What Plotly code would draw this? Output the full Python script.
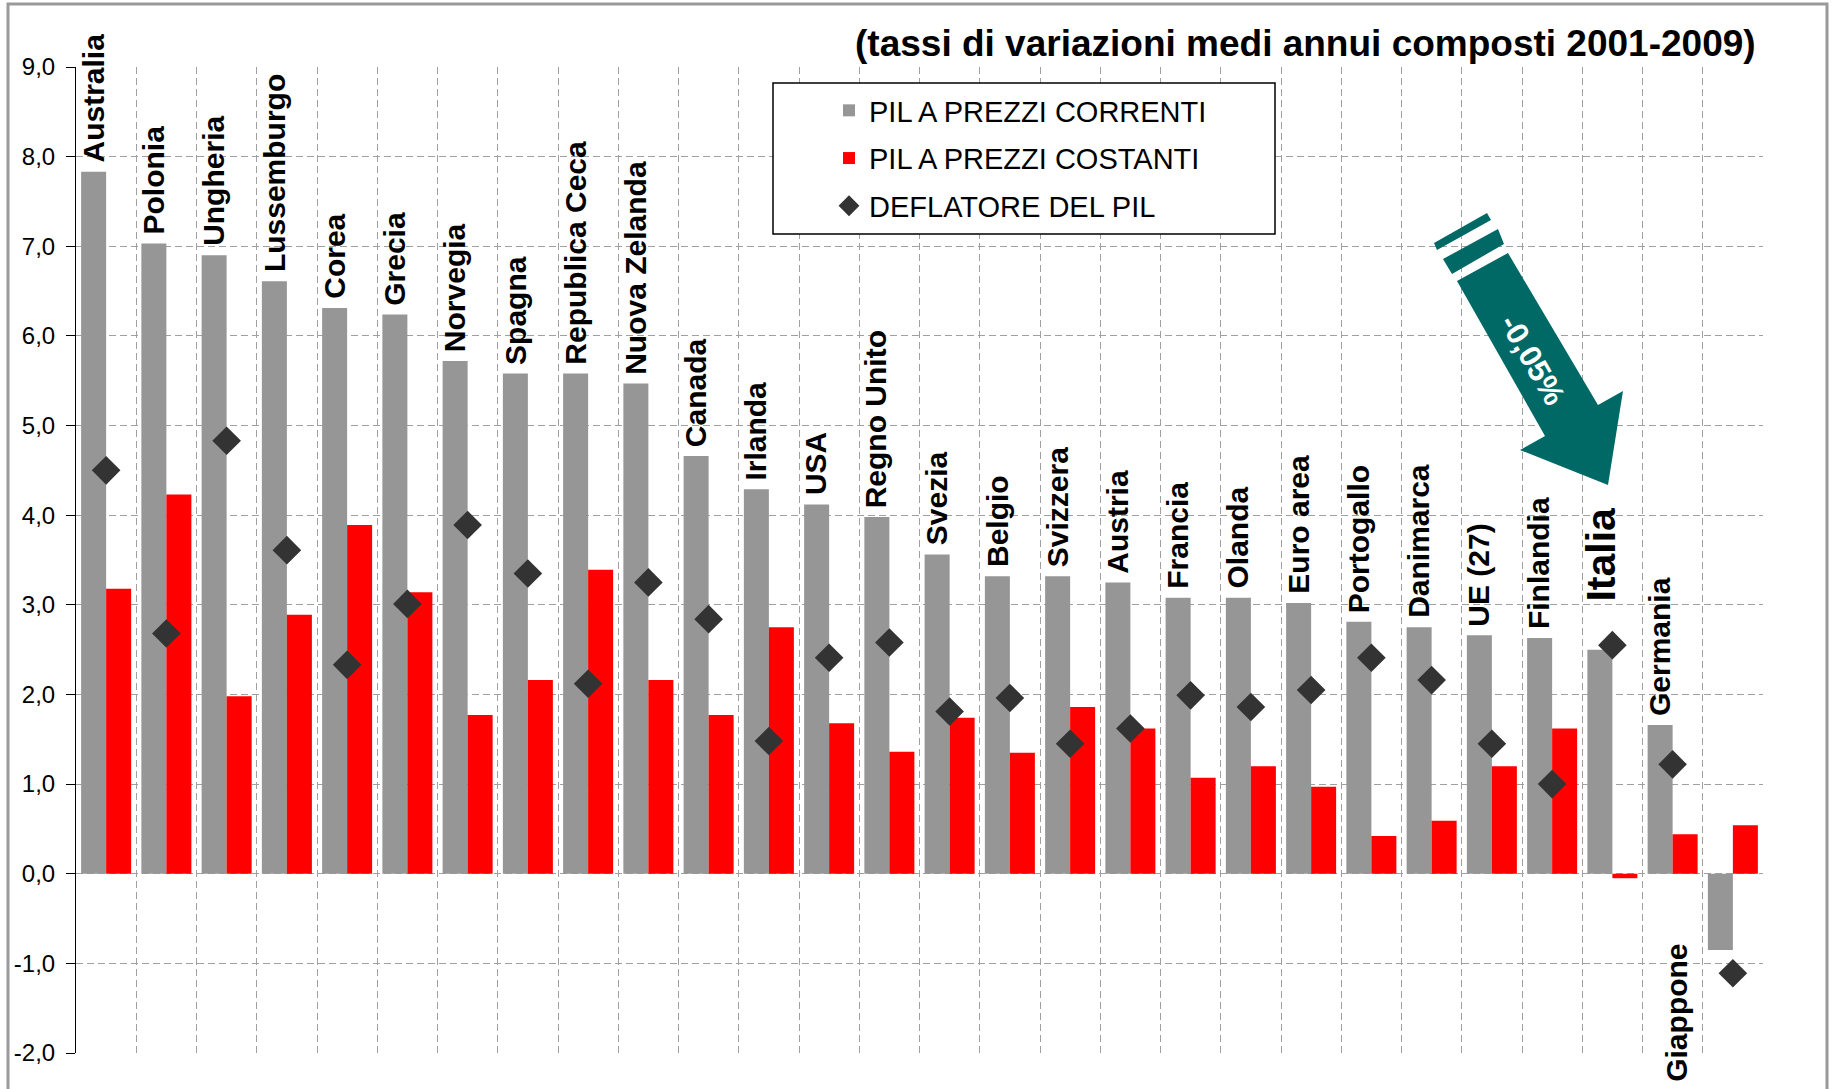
import plotly.graph_objects as go

# ---------------- data ----------------
countries = ["Australia", "Polonia", "Ungheria", "Lussemburgo", "Corea", "Grecia",
             "Norvegia", "Spagna", "Republica Ceca", "Nuova Zelanda", "Canada",
             "Irlanda", "USA", "Regno Unito", "Svezia", "Belgio", "Svizzera",
             "Austria", "Francia", "Olanda", "Euro area", "Portogallo", "Danimarca",
             "UE (27)", "Finlandia", "Italia", "Germania", "Giappone"]
pil_correnti = [7.83, 7.03, 6.90, 6.61, 6.31, 6.24, 5.72, 5.58, 5.58, 5.47, 4.66,
                4.29, 4.12, 3.98, 3.56, 3.32, 3.32, 3.25, 3.08, 3.08, 3.02, 2.81,
                2.75, 2.66, 2.63, 2.50, 1.66, -0.85]
pil_costanti = [3.18, 4.23, 1.98, 2.89, 3.89, 3.14, 1.77, 2.16, 3.39, 2.16, 1.77,
                2.75, 1.68, 1.36, 1.74, 1.35, 1.86, 1.62, 1.07, 1.20, 0.97, 0.42,
                0.59, 1.20, 1.62, -0.05, 0.44, 0.54]
deflatore = [4.50, 2.68, 4.83, 3.61, 2.33, 3.01, 3.89, 3.35, 2.12, 3.25, 2.84,
             1.48, 2.41, 2.58, 1.81, 1.96, 1.45, 1.62, 1.99, 1.86, 2.05, 2.41,
             2.16, 1.45, 1.00, 2.55, 1.22, -1.11]
series_names = ["PIL A PREZZI CORRENTI", "PIL A PREZZI COSTANTI", "DEFLATORE DEL PIL"]
tick_vals = [-2, -1, 0, 1, 2, 3, 4, 5, 6, 7, 8, 9]
tick_text = ["-2,0", "-1,0", "0,0", "1,0", "2,0", "3,0", "4,0", "5,0", "6,0", "7,0", "8,0", "9,0"]
title_text = "(tassi di variazioni medi annui composti 2001-2009)"
arrow_text = "-0,05%"
highlight = "Italia"
below_label = "Giappone"

# ---------------- layout geometry (pixels) ----------------
W_PAGE, H_PAGE = 1841, 1089
L, R, T, B = 76, 1763, 67, 1053
PW, PH = R - L, B - T


def px(x):
    return (x - L) / PW


def py(y):
    return (B - y) / PH


FONT = "Liberation Sans, Arial, sans-serif"
GRAY = "#969696"
RED = "#ff0000"
DARK = "#333333"
TEAL = "#006966"

fig = go.Figure()
fig.add_trace(go.Bar(x=countries, y=pil_correnti, name=series_names[0],
                     marker=dict(color=GRAY, line=dict(width=0)), legendgroup="a"))
fig.add_trace(go.Bar(x=countries, y=pil_costanti, name=series_names[1],
                     marker=dict(color=RED, line=dict(width=0)), legendgroup="b"))
fig.add_trace(go.Scatter(x=countries, y=deflatore, name=series_names[2], mode="markers",
                         marker=dict(symbol="diamond", size=22, color=DARK,
                                     line=dict(width=0)), legendgroup="c"))

# category labels
annotations = []
for c, v in zip(countries, pil_correnti):
    if c == below_label:
        annotations.append(dict(x=c, y=v, xref="x", yref="y", text=c, showarrow=False,
                                textangle=-90, xanchor="center", yanchor="top",
                                xshift=-56, yshift=8,
                                font=dict(family=FONT, size=30, color="black", weight="bold")))
    elif c == highlight:
        annotations.append(dict(x=c, y=v, xref="x", yref="y", text=c, showarrow=False,
                                textangle=-90, xanchor="center", yanchor="bottom",
                                xshift=-11, yshift=46,
                                font=dict(family=FONT, size=41, color="black", weight="bold")))
    else:
        annotations.append(dict(x=c, y=v, xref="x", yref="y", text=c, showarrow=False,
                                textangle=-90, xanchor="center", yanchor="bottom",
                                xshift=-13, yshift=7,
                                font=dict(family=FONT, size=30, color="black", weight="bold")))

annotations.append(dict(x=px(1758), y=py(43), xref="paper", yref="paper", text=title_text,
                        showarrow=False, xanchor="right", yanchor="middle",
                        font=dict(family=FONT, size=37, color="black", weight="bold")))
annotations.append(dict(x=px(1532), y=py(360), xref="paper", yref="paper", text=arrow_text,
                        showarrow=False, textangle=60, xanchor="center", yanchor="middle",
                        font=dict(family=FONT, size=31, color="white", weight="bold")))


def path(points):
    s = "M " + " L ".join(f"{px(a):.5f},{py(b):.5f}" for a, b in points) + " Z"
    return s


shapes = [
    # outer frame
    dict(type="rect", xref="paper", yref="paper", x0=px(8), x1=px(1827), y0=py(1092), y1=py(4),
         line=dict(color="#9a9a9a", width=3), fillcolor="rgba(0,0,0,0)", layer="above"),
    # legend box
    dict(type="rect", xref="paper", yref="paper", x0=px(773), x1=px(1275), y0=py(234), y1=py(83),
         line=dict(color="black", width=1.5), fillcolor="white", layer="above"),
    # arrow stripes
    dict(type="path", xref="paper", yref="paper",
         path=path([(1434, 243), (1487, 213), (1491, 220), (1437, 250)]),
         fillcolor=TEAL, line=dict(width=0), layer="above"),
    dict(type="path", xref="paper", yref="paper",
         path=path([(1443, 259), (1498, 229), (1504, 244), (1452, 274)]),
         fillcolor=TEAL, line=dict(width=0), layer="above"),
    # arrow body
    dict(type="path", xref="paper", yref="paper",
         path=path([(1457, 281), (1508, 253), (1598, 405), (1623, 391), (1608, 485),
                    (1520, 450), (1545, 436)]),
         fillcolor=TEAL, line=dict(width=0), layer="above"),
]

grid = dict(showgrid=True, gridcolor="#a0a0a0", gridwidth=1, griddash="7px,4px")

fig.update_layout(
    width=W_PAGE, height=H_PAGE,
    margin=dict(l=L, r=W_PAGE - R, t=T, b=H_PAGE - B, pad=0),
    paper_bgcolor="white", plot_bgcolor="white",
    barmode="group", bargap=0.17, bargroupgap=0,
    font=dict(family=FONT, color="black"),
    showlegend=True,
    legend=dict(x=px(829), y=py(85), xanchor="left", yanchor="top",
                bgcolor="rgba(0,0,0,0)", borderwidth=0, traceorder="grouped",
                tracegroupgap=7, font=dict(family=FONT, size=29, color="black")),
    xaxis=dict(type="category", tickson="boundaries", showticklabels=False, ticks="",
               showline=False, zeroline=False, range=[-0.5, len(countries) - 0.5], **grid),
    yaxis=dict(range=[-2, 9], tickvals=tick_vals, ticktext=tick_text, ticks="outside",
               ticklen=9, tickcolor="black", showline=True, linecolor="black", linewidth=1,
               zeroline=False, ticklabelstandoff=6,
               tickfont=dict(family=FONT, size=24, color="black"), **grid),
    yaxis2=dict(range=[-2, 9], tickvals=tick_vals, ticktext=tick_text, overlaying="y",
                side="right", ticks="outside", ticklen=9, tickcolor="black", showline=True,
                linecolor="black", linewidth=1, zeroline=False, showgrid=False,
                ticklabelstandoff=4,
                tickfont=dict(family=FONT, size=24, color="black")),
    annotations=annotations,
    shapes=shapes,
)

fig.write_html("out.html", config={"displayModeBar": False},
               post_script="document.body.style.margin='0';document.body.style.overflow='hidden';")
